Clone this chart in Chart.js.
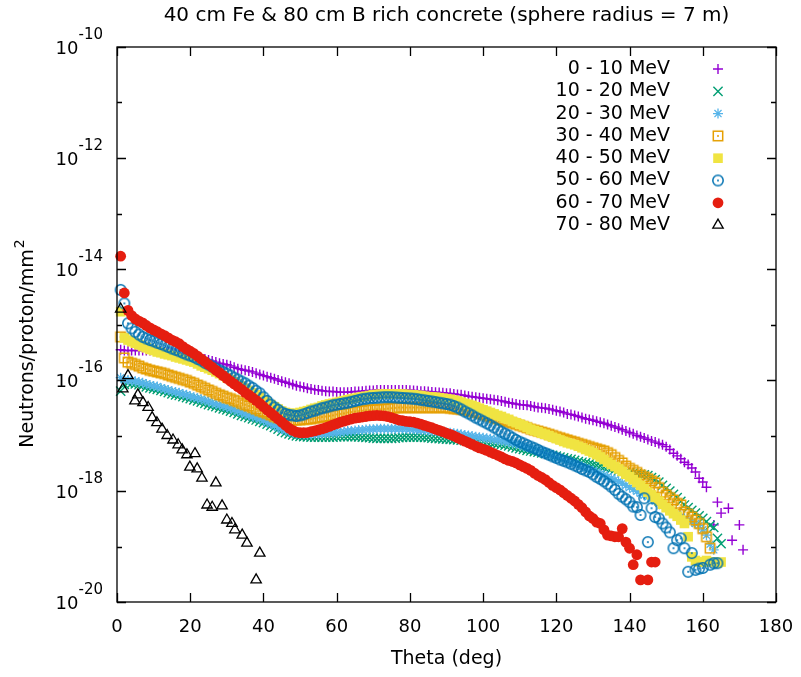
<!DOCTYPE html>
<html lang="en">
<head>
<meta charset="utf-8">
<title>40 cm Fe & 80 cm B rich concrete</title>
<script src="https://cdn.jsdelivr.net/npm/chart.js"></script>
<style>
  body { margin: 0; background: #fff; }
  canvas { display: block; }
</style>
</head>
<body>
<canvas id="myChart" width="801" height="677"></canvas>
<script>
//------------------------------ Datos ------------------------------//
// angulo (grados) comun a las siete primeras series, un punto por grado
const theta = [
  1, 2, 3, 4, 5, 6, 7, 8, 9, 10,
  11, 12, 13, 14, 15, 16, 17, 18, 19, 20,
  21, 22, 23, 24, 25, 26, 27, 28, 29, 30,
  31, 32, 33, 34, 35, 36, 37, 38, 39, 40,
  41, 42, 43, 44, 45, 46, 47, 48, 49, 50,
  51, 52, 53, 54, 55, 56, 57, 58, 59, 60,
  61, 62, 63, 64, 65, 66, 67, 68, 69, 70,
  71, 72, 73, 74, 75, 76, 77, 78, 79, 80,
  81, 82, 83, 84, 85, 86, 87, 88, 89, 90,
  91, 92, 93, 94, 95, 96, 97, 98, 99, 100,
  101, 102, 103, 104, 105, 106, 107, 108, 109, 110,
  111, 112, 113, 114, 115, 116, 117, 118, 119, 120,
  121, 122, 123, 124, 125, 126, 127, 128, 129, 130,
  131, 132, 133, 134, 135, 136, 137, 138, 139, 140,
  141, 142, 143, 144, 145, 146, 147, 148, 149, 150,
  151, 152, 153, 154, 155, 156, 157, 158, 159, 160,
  161, 162, 163, 164, 165, 166, 167, 168, 169, 170,
  171
];

// neutrones/proton/mm2 por intervalo de energia (null = sin punto)
const flux0_10 = [
  3.5e-16, 3.4e-16, 3.4e-16, 3.4e-16, 3.4e-16, 3.4e-16, 3.4e-16, 3.4e-16, 3.4e-16, 3.35e-16,
  3.3e-16, 3.25e-16, 3.2e-16, 3.2e-16, 3.2e-16, 3.1e-16, 3.0e-16, 2.95e-16, 2.9e-16, 2.8e-16,
  2.7e-16, 2.6e-16, 2.5e-16, 2.4e-16, 2.3e-16, 2.2e-16, 2.1e-16, 2.0e-16, 1.95e-16, 1.88e-16,
  1.8e-16, 1.7e-16, 1.6e-16, 1.55e-16, 1.5e-16, 1.45e-16, 1.4e-16, 1.33e-16, 1.26e-16, 1.2e-16,
  1.15e-16, 1.1e-16, 1.05e-16, 1.0e-16, 9.5e-17, 9.1e-17, 8.7e-17, 8.3e-17, 7.9e-17, 7.6e-17,
  7.4e-17, 7.1e-17, 6.9e-17, 6.7e-17, 6.6e-17, 6.4e-17, 6.3e-17, 6.2e-17, 6.2e-17, 6.1e-17,
  6.0e-17, 6.0e-17, 6.0e-17, 6.1e-17, 6.2e-17, 6.2e-17, 6.3e-17, 6.4e-17, 6.5e-17, 6.5e-17,
  6.6e-17, 6.6e-17, 6.6e-17, 6.6e-17, 6.6e-17, 6.6e-17, 6.6e-17, 6.6e-17, 6.6e-17, 6.55e-17,
  6.5e-17, 6.4e-17, 6.3e-17, 6.25e-17, 6.2e-17, 6.1e-17, 6.0e-17, 5.95e-17, 5.9e-17, 5.8e-17,
  5.75e-17, 5.6e-17, 5.5e-17, 5.4e-17, 5.25e-17, 5.1e-17, 5.0e-17, 4.9e-17, 4.8e-17, 4.7e-17,
  4.6e-17, 4.5e-17, 4.4e-17, 4.3e-17, 4.2e-17, 4.05e-17, 3.9e-17, 3.8e-17, 3.7e-17, 3.6e-17,
  3.55e-17, 3.5e-17, 3.4e-17, 3.3e-17, 3.2e-17, 3.15e-17, 3.1e-17, 3.0e-17, 2.9e-17, 2.8e-17,
  2.7e-17, 2.6e-17, 2.45e-17, 2.4e-17, 2.3e-17, 2.2e-17, 2.1e-17, 2.0e-17, 1.95e-17, 1.88e-17,
  1.8e-17, 1.73e-17, 1.66e-17, 1.58e-17, 1.5e-17, 1.42e-17, 1.35e-17, 1.27e-17, 1.2e-17, 1.13e-17,
  1.07e-17, 1.0e-17, 9.5e-18, 9.0e-18, 8.5e-18, 8.0e-18, 7.6e-18, 7.2e-18, 6.8e-18, 6.3e-18,
  5.6e-18, 4.8e-18, 4.3e-18, 3.8e-18, 3.3e-18, 3.0e-18, 2.6e-18, 2.2e-18, 1.7e-18, 1.45e-18,
  1.17e-18, null, 2.45e-19, 6.3e-19, 4.0e-19, null, 4.9e-19, 1.3e-19, null, 2.45e-19,
  8.7e-20
];
const flux10_20 = [
  6.3e-17, 8.3e-17, 8.9e-17, 8.7e-17, 8.5e-17, 8.2e-17, 7.9e-17, 7.5e-17, 7.2e-17, 7.0e-17,
  6.8e-17, 6.5e-17, 6.2e-17, 5.9e-17, 5.6e-17, 5.4e-17, 5.25e-17, 5.0e-17, 4.8e-17, 4.6e-17,
  4.4e-17, 4.2e-17, 4.0e-17, 3.8e-17, 3.6e-17, 3.45e-17, 3.3e-17, 3.15e-17, 3.0e-17, 2.9e-17,
  2.75e-17, 2.6e-17, 2.45e-17, 2.3e-17, 2.2e-17, 2.1e-17, 2.0e-17, 1.9e-17, 1.8e-17, 1.7e-17,
  1.6e-17, 1.5e-17, 1.4e-17, 1.3e-17, 1.2e-17, 1.13e-17, 1.07e-17, 1.02e-17, 9.8e-18, 9.6e-18,
  9.5e-18, 9.4e-18, 9.3e-18, 9.3e-18, 9.3e-18, 9.3e-18, 9.3e-18, 9.3e-18, 9.3e-18, 9.4e-18,
  9.5e-18, 9.5e-18, 9.5e-18, 9.5e-18, 9.5e-18, 9.4e-18, 9.3e-18, 9.2e-18, 9.1e-18, 9.0e-18,
  8.9e-18, 8.9e-18, 8.9e-18, 8.9e-18, 8.9e-18, 9.0e-18, 9.1e-18, 9.2e-18, 9.3e-18, 9.3e-18,
  9.3e-18, 9.3e-18, 9.3e-18, 9.2e-18, 9.1e-18, 9.0e-18, 8.9e-18, 8.8e-18, 8.7e-18, 8.6e-18,
  8.5e-18, 8.4e-18, 8.3e-18, 8.2e-18, 8.1e-18, 8.0e-18, 7.9e-18, 7.85e-18, 7.8e-18, 7.7e-18,
  7.6e-18, 7.4e-18, 7.2e-18, 7.05e-18, 6.9e-18, 6.7e-18, 6.5e-18, 6.25e-18, 6.0e-18, 5.8e-18,
  5.6e-18, 5.4e-18, 5.25e-18, 5.1e-18, 5.0e-18, 4.85e-18, 4.7e-18, 4.55e-18, 4.4e-18, 4.25e-18,
  4.1e-18, 3.95e-18, 3.8e-18, 3.7e-18, 3.55e-18, 3.4e-18, 3.3e-18, 3.2e-18, 3.1e-18, 3.0e-18,
  2.9e-18, 2.8e-18, 2.7e-18, 2.6e-18, 2.5e-18, 2.42e-18, 2.35e-18, 2.27e-18, 2.2e-18, 2.15e-18,
  2.1e-18, 2.05e-18, 2.0e-18, 1.95e-18, 1.9e-18, 1.75e-18, 1.6e-18, 1.45e-18, 1.26e-18, 1.12e-18,
  1.0e-18, 8.7e-19, 7.6e-19, 6.5e-19, 5.6e-19, 5.0e-19, 4.5e-19, 4.0e-19, 3.55e-19, 3.2e-19,
  2.8e-19, 2.4e-19, 2.2e-19, 1.4e-19, 1.12e-19, null, null, null, null, null,
  null
];
const flux20_30 = [
  1.1e-16, 1.0e-16, 1.0e-16, 9.8e-17, 9.5e-17, 9.2e-17, 8.9e-17, 8.5e-17, 8.1e-17, 7.8e-17,
  7.6e-17, 7.2e-17, 6.9e-17, 6.6e-17, 6.3e-17, 6.1e-17, 5.9e-17, 5.6e-17, 5.4e-17, 5.1e-17,
  4.9e-17, 4.7e-17, 4.5e-17, 4.3e-17, 4.1e-17, 3.9e-17, 3.7e-17, 3.55e-17, 3.4e-17, 3.25e-17,
  3.1e-17, 2.9e-17, 2.75e-17, 2.6e-17, 2.45e-17, 2.3e-17, 2.2e-17, 2.1e-17, 2.0e-17, 1.87e-17,
  1.74e-17, 1.62e-17, 1.5e-17, 1.4e-17, 1.3e-17, 1.23e-17, 1.17e-17, 1.12e-17, 1.07e-17, 1.06e-17,
  1.05e-17, 1.05e-17, 1.05e-17, 1.06e-17, 1.07e-17, 1.08e-17, 1.1e-17, 1.11e-17, 1.12e-17, 1.13e-17,
  1.15e-17, 1.17e-17, 1.2e-17, 1.21e-17, 1.23e-17, 1.25e-17, 1.26e-17, 1.28e-17, 1.29e-17, 1.3e-17,
  1.32e-17, 1.32e-17, 1.32e-17, 1.32e-17, 1.32e-17, 1.32e-17, 1.32e-17, 1.32e-17, 1.32e-17, 1.3e-17,
  1.29e-17, 1.27e-17, 1.26e-17, 1.25e-17, 1.23e-17, 1.21e-17, 1.2e-17, 1.17e-17, 1.15e-17, 1.13e-17,
  1.12e-17, 1.1e-17, 1.07e-17, 1.05e-17, 1.02e-17, 1.0e-17, 9.8e-18, 9.5e-18, 9.3e-18, 9.1e-18,
  8.9e-18, 8.7e-18, 8.5e-18, 8.3e-18, 8.1e-18, 7.8e-18, 7.6e-18, 7.3e-18, 7.1e-18, 6.8e-18,
  6.5e-18, 6.2e-18, 5.9e-18, 5.6e-18, 5.4e-18, 5.1e-18, 4.9e-18, 4.6e-18, 4.4e-18, 4.1e-18,
  3.9e-18, 3.7e-18, 3.5e-18, 3.3e-18, 3.1e-18, 2.9e-18, 2.75e-18, 2.6e-18, 2.45e-18, 2.3e-18,
  2.2e-18, 2.05e-18, 1.95e-18, 1.8e-18, 1.7e-18, 1.6e-18, 1.5e-18, 1.38e-18, 1.26e-18, 1.16e-18,
  1.07e-18, 9.9e-19, 9.1e-19, 8.4e-19, 7.8e-19, 7.2e-19, 6.6e-19, 6.0e-19, 5.5e-19, 5.0e-19,
  4.6e-19, 4.2e-19, 3.8e-19, 3.5e-19, 3.2e-19, 3.0e-19, 2.8e-19, 2.6e-19, 2.4e-19, 2.0e-19,
  1.6e-19, 1.1e-19, 8.7e-20, null, null, null, null, null, null, null,
  null
];
const flux30_40 = [
  6.0e-16, 2.5e-16, 2.1e-16, 2.0e-16, 1.9e-16, 1.78e-16, 1.66e-16, 1.58e-16, 1.5e-16, 1.45e-16,
  1.4e-16, 1.35e-16, 1.3e-16, 1.23e-16, 1.17e-16, 1.12e-16, 1.07e-16, 1.02e-16, 9.8e-17, 9.2e-17,
  8.7e-17, 8.1e-17, 7.6e-17, 7.1e-17, 6.6e-17, 6.2e-17, 5.75e-17, 5.4e-17, 5.1e-17, 4.8e-17,
  4.6e-17, 4.3e-17, 4.1e-17, 3.8e-17, 3.6e-17, 3.4e-17, 3.2e-17, 3.0e-17, 2.8e-17, 2.65e-17,
  2.5e-17, 2.35e-17, 2.2e-17, 2.1e-17, 2.0e-17, 1.95e-17, 1.9e-17, 1.9e-17, 1.9e-17, 1.92e-17,
  1.95e-17, 1.97e-17, 2.0e-17, 2.05e-17, 2.1e-17, 2.15e-17, 2.2e-17, 2.25e-17, 2.3e-17, 2.4e-17,
  2.45e-17, 2.5e-17, 2.6e-17, 2.65e-17, 2.7e-17, 2.75e-17, 2.8e-17, 2.85e-17, 2.9e-17, 2.92e-17,
  2.95e-17, 2.97e-17, 3.0e-17, 3.05e-17, 3.1e-17, 3.15e-17, 3.2e-17, 3.2e-17, 3.2e-17, 3.2e-17,
  3.2e-17, 3.2e-17, 3.2e-17, 3.2e-17, 3.2e-17, 3.2e-17, 3.2e-17, 3.2e-17, 3.2e-17, 3.2e-17,
  3.1e-17, 3.05e-17, 3.0e-17, 2.95e-17, 2.9e-17, 2.8e-17, 2.7e-17, 2.6e-17, 2.5e-17, 2.4e-17,
  2.3e-17, 2.2e-17, 2.1e-17, 2.0e-17, 1.9e-17, 1.82e-17, 1.74e-17, 1.67e-17, 1.6e-17, 1.52e-17,
  1.45e-17, 1.38e-17, 1.3e-17, 1.25e-17, 1.2e-17, 1.15e-17, 1.1e-17, 1.05e-17, 1.0e-17, 9.5e-18,
  9.1e-18, 8.7e-18, 8.3e-18, 7.9e-18, 7.6e-18, 7.2e-18, 6.9e-18, 6.6e-18, 6.3e-18, 6.0e-18,
  5.75e-18, 5.5e-18, 5.25e-18, 4.9e-18, 4.5e-18, 4.0e-18, 3.55e-18, 3.2e-18, 2.8e-18, 2.55e-18,
  2.35e-18, 2.15e-18, 1.95e-18, 1.8e-18, 1.66e-18, 1.52e-18, 1.4e-18, 1.15e-18, 9.5e-19, 8.5e-19,
  7.6e-19, 6.9e-19, 6.0e-19, 5.6e-19, 4.2e-19, 3.8e-19, 3.4e-19, 3.0e-19, 2.6e-19, 2.1e-19,
  1.5e-19, 9.3e-20, null, null, null, null, null, null, null, null,
  null
];
const flux40_50 = [
  1.7e-15, 5.75e-16, 5.25e-16, 4.9e-16, 4.6e-16, 4.3e-16, 4.0e-16, 3.8e-16, 3.55e-16, 3.4e-16,
  3.2e-16, 3.1e-16, 2.95e-16, 2.85e-16, 2.75e-16, 2.6e-16, 2.5e-16, 2.4e-16, 2.3e-16, 2.2e-16,
  2.1e-16, 1.95e-16, 1.8e-16, 1.7e-16, 1.6e-16, 1.5e-16, 1.4e-16, 1.3e-16, 1.2e-16, 1.1e-16,
  1.02e-16, 9.3e-17, 8.5e-17, 7.8e-17, 7.1e-17, 6.5e-17, 5.9e-17, 5.4e-17, 4.9e-17, 4.4e-17,
  4.0e-17, 3.6e-17, 3.3e-17, 3.0e-17, 2.75e-17, 2.6e-17, 2.5e-17, 2.5e-17, 2.5e-17, 2.6e-17,
  2.7e-17, 2.8e-17, 2.95e-17, 3.1e-17, 3.2e-17, 3.4e-17, 3.55e-17, 3.7e-17, 3.8e-17, 3.95e-17,
  4.1e-17, 4.25e-17, 4.4e-17, 4.55e-17, 4.7e-17, 4.85e-17, 5.0e-17, 5.1e-17, 5.25e-17, 5.4e-17,
  5.5e-17, 5.55e-17, 5.6e-17, 5.6e-17, 5.6e-17, 5.6e-17, 5.6e-17, 5.55e-17, 5.5e-17, 5.45e-17,
  5.4e-17, 5.3e-17, 5.25e-17, 5.1e-17, 5.0e-17, 4.95e-17, 4.9e-17, 4.8e-17, 4.7e-17, 4.6e-17,
  4.5e-17, 4.35e-17, 4.2e-17, 4.0e-17, 3.8e-17, 3.65e-17, 3.5e-17, 3.3e-17, 3.1e-17, 2.9e-17,
  2.75e-17, 2.6e-17, 2.45e-17, 2.3e-17, 2.2e-17, 2.05e-17, 1.95e-17, 1.8e-17, 1.7e-17, 1.6e-17,
  1.5e-17, 1.4e-17, 1.3e-17, 1.23e-17, 1.17e-17, 1.1e-17, 1.05e-17, 9.9e-18, 9.3e-18, 8.8e-18,
  8.3e-18, 7.8e-18, 7.4e-18, 7.1e-18, 6.8e-18, 6.4e-18, 6.0e-18, 5.6e-18, 5.25e-18, 4.9e-18,
  4.5e-18, 4.1e-18, 3.7e-18, 3.3e-18, 3.0e-18, 2.75e-18, 2.5e-18, 2.25e-18, 2.0e-18, 1.8e-18,
  1.6e-18, 1.42e-18, 1.26e-18, 1.1e-18, 9.5e-19, 8.5e-19, 7.6e-19, 6.6e-19, 5.75e-19, 5.0e-19,
  4.4e-19, 3.9e-19, 3.5e-19, 3.0e-19, 2.6e-19, 1.5e-19, 6.5e-20, 5.6e-20, 5.25e-20, 5.25e-20,
  5.6e-20, 5.25e-20, 5.25e-20, 5.0e-20, 5.25e-20, null, null, null, null, null,
  null
];
const flux50_60 = [
  4.2e-15, 2.4e-15, 1.05e-15, 8.5e-16, 7.4e-16, 6.6e-16, 6.0e-16, 5.6e-16, 5.25e-16, 5.0e-16,
  4.7e-16, 4.45e-16, 4.2e-16, 3.95e-16, 3.7e-16, 3.5e-16, 3.3e-16, 3.1e-16, 2.9e-16, 2.75e-16,
  2.6e-16, 2.4e-16, 2.25e-16, 2.05e-16, 1.9e-16, 1.75e-16, 1.6e-16, 1.5e-16, 1.4e-16, 1.3e-16,
  1.2e-16, 1.1e-16, 1.02e-16, 9.4e-17, 8.7e-17, 7.9e-17, 7.2e-17, 6.4e-17, 5.75e-17, 4.9e-17,
  4.2e-17, 3.6e-17, 3.2e-17, 2.9e-17, 2.6e-17, 2.45e-17, 2.35e-17, 2.3e-17, 2.25e-17, 2.3e-17,
  2.4e-17, 2.55e-17, 2.7e-17, 2.8e-17, 2.95e-17, 3.1e-17, 3.2e-17, 3.35e-17, 3.5e-17, 3.6e-17,
  3.7e-17, 3.8e-17, 3.9e-17, 4.05e-17, 4.2e-17, 4.35e-17, 4.5e-17, 4.6e-17, 4.7e-17, 4.75e-17,
  4.8e-17, 4.85e-17, 4.9e-17, 4.9e-17, 4.9e-17, 4.85e-17, 4.8e-17, 4.75e-17, 4.7e-17, 4.65e-17,
  4.6e-17, 4.5e-17, 4.4e-17, 4.3e-17, 4.2e-17, 4.1e-17, 4.0e-17, 3.9e-17, 3.8e-17, 3.7e-17,
  3.6e-17, 3.4e-17, 3.2e-17, 2.95e-17, 2.7e-17, 2.5e-17, 2.3e-17, 2.1e-17, 1.95e-17, 1.8e-17,
  1.66e-17, 1.53e-17, 1.4e-17, 1.28e-17, 1.17e-17, 1.08e-17, 1.0e-17, 9.1e-18, 8.3e-18, 7.7e-18,
  7.2e-18, 6.7e-18, 6.3e-18, 5.9e-18, 5.5e-18, 5.1e-18, 4.8e-18, 4.5e-18, 4.2e-18, 3.95e-18,
  3.7e-18, 3.5e-18, 3.3e-18, 3.1e-18, 2.9e-18, 2.7e-18, 2.5e-18, 2.35e-18, 2.2e-18, 2.0e-18,
  1.8e-18, 1.65e-18, 1.5e-18, 1.35e-18, 1.2e-18, 1.05e-18, 8.9e-19, 7.9e-19, 7.1e-19, 6.3e-19,
  5.25e-19, 5.1e-19, 3.7e-19, 7.4e-19, 1.2e-19, 4.9e-19, 3.4e-19, 3.2e-19, 2.6e-19, 2.2e-19,
  1.8e-19, 9.3e-20, 1.3e-19, 1.4e-19, 9.3e-20, 3.5e-20, 7.6e-20, 3.8e-20, 4.0e-20, 4.1e-20,
  null, 4.7e-20, 5.0e-20, 5.0e-20, null, null, null, null, null, null,
  null
];
const flux60_70 = [
  1.7e-14, 3.7e-15, 1.8e-15, 1.45e-15, 1.26e-15, 1.15e-15, 1.07e-15, 9.6e-16, 8.7e-16, 8.0e-16,
  7.4e-16, 6.8e-16, 6.3e-16, 5.75e-16, 5.25e-16, 4.9e-16, 4.5e-16, 4.0e-16, 3.6e-16, 3.3e-16,
  3.0e-16, 2.7e-16, 2.4e-16, 2.15e-16, 1.9e-16, 1.7e-16, 1.5e-16, 1.35e-16, 1.2e-16, 1.07e-16,
  9.5e-17, 8.5e-17, 7.6e-17, 6.8e-17, 6.0e-17, 5.4e-17, 4.8e-17, 4.3e-17, 3.8e-17, 3.3e-17,
  2.9e-17, 2.55e-17, 2.25e-17, 1.98e-17, 1.74e-17, 1.53e-17, 1.35e-17, 1.24e-17, 1.15e-17, 1.12e-17,
  1.12e-17, 1.13e-17, 1.17e-17, 1.21e-17, 1.26e-17, 1.32e-17, 1.38e-17, 1.46e-17, 1.55e-17, 1.64e-17,
  1.74e-17, 1.82e-17, 1.9e-17, 1.98e-17, 2.05e-17, 2.1e-17, 2.15e-17, 2.2e-17, 2.25e-17, 2.28e-17,
  2.3e-17, 2.28e-17, 2.25e-17, 2.18e-17, 2.1e-17, 2.0e-17, 1.9e-17, 1.85e-17, 1.8e-17, 1.77e-17,
  1.74e-17, 1.67e-17, 1.6e-17, 1.52e-17, 1.45e-17, 1.38e-17, 1.3e-17, 1.24e-17, 1.17e-17, 1.1e-17,
  1.05e-17, 9.8e-18, 9.1e-18, 8.5e-18, 7.9e-18, 7.4e-18, 6.9e-18, 6.4e-18, 6.0e-18, 5.7e-18,
  5.4e-18, 5.0e-18, 4.7e-18, 4.4e-18, 4.1e-18, 3.8e-18, 3.55e-18, 3.4e-18, 3.2e-18, 2.95e-18,
  2.75e-18, 2.55e-18, 2.35e-18, 2.1e-18, 1.9e-18, 1.75e-18, 1.6e-18, 1.42e-18, 1.26e-18, 1.15e-18,
  1.05e-18, 9.3e-19, 8.3e-19, 7.4e-19, 6.6e-19, 5.75e-19, 5.0e-19, 4.2e-19, 3.55e-19, 3.2e-19,
  2.75e-19, 2.6e-19, 2.0e-19, 1.6e-19, 1.55e-19, 1.5e-19, 1.5e-19, 2.1e-19, 1.2e-19, 9.3e-20,
  4.7e-20, 7.1e-20, 2.5e-20, null, 2.5e-20, 5.25e-20, 5.25e-20, null, null, null,
  null, null, null, null, null, null, null, null, null, null,
  null, null, null, null, null, null, null, null, null, null,
  null
];
// la serie 70 - 80 MeV tiene sus propios angulos
const thetaTri = [1, 1.6, 3, 4.9, 5.7, 7.1, 8.5, 9.6, 10.9, 12.3, 13.7, 15.3, 16.7, 17.8, 19.1,
  19.9, 21.3, 21.9, 23.2, 24.6, 26, 27, 28.7, 30, 31.4, 32.2, 34.2, 35.5, 38, 39];
const flux70_80 = [1.9e-15, 6.9e-17, 1.2e-16, 4.2e-17, 5.4e-17, 3.9e-17, 3.2e-17, 2.1e-17, 1.7e-17,
  1.3e-17, 1.0e-17, 8.3e-18, 6.8e-18, 5.5e-18, 4.5e-18, 2.7e-18, 4.7e-18, 2.5e-18, 1.7e-18,
  5.6e-19, 5.1e-19, 1.4e-18, 5.4e-19, 3.0e-19, 2.6e-19, 2.0e-19, 1.6e-19, 1.15e-19, 2.5e-20, 7.6e-20];

const energias = ["0 - 10 MeV", "10 - 20 MeV", "20 - 30 MeV", "30 - 40 MeV",
  "40 - 50 MeV", "50 - 60 MeV", "60 - 70 MeV", "70 - 80 MeV"];
const xTicks = [0, 20, 40, 60, 80, 100, 120, 140, 160, 180];
const exponentes = [-20, -19, -18, -17, -16, -15, -14, -13, -12, -11, -10];

//------------------------------ Marcas estilo gnuplot ------------------------------//
const FUENTE = '"DejaVu Sans", sans-serif';

// cuadrado o circulo abierto con un punto al centro
function marcaConPunto(forma, color) {
  const c = document.createElement("canvas");
  const lado = 14;
  c.width = lado;
  c.height = lado;
  const g = c.getContext("2d");
  const m = lado / 2;
  g.strokeStyle = color;
  g.fillStyle = color;
  g.lineWidth = 1.5;
  g.beginPath();
  if (forma === "circulo") g.arc(m, m, 5.2, 0, Math.PI * 2);
  else g.rect(m - 4.7, m - 4.7, 9.4, 9.4);
  g.stroke();
  g.beginPath();
  g.arc(m, m, 1, 0, Math.PI * 2);
  g.fill();
  return c;
}

const estilos = [
  { color: "#9400d3", pointStyle: "cross", radius: 5, borde: 1.4, relleno: "#9400d3" },
  { color: "#009e73", pointStyle: "crossRot", radius: 6.5, borde: 1.4, relleno: "#009e73" },
  { color: "#56b4e9", pointStyle: "star", radius: 5, borde: 1.3, relleno: "#56b4e9" },
  { color: "#e69f00", pointStyle: marcaConPunto("cuadrado", "#e69f00"), radius: 5, borde: 0, relleno: "#e69f00" },
  { color: "#f0e442", pointStyle: "rect", radius: 6.8, borde: 0, relleno: "#f0e442" },
  { color: "#0072b2", pointStyle: marcaConPunto("circulo", "#0072b2"), radius: 5, borde: 0, relleno: "#0072b2" },
  { color: "#e51e10", pointStyle: "circle", radius: 5.4, borde: 0, relleno: "#e51e10" },
  { color: "#000000", pointStyle: "triangle", radius: 6, borde: 1.3, relleno: "rgba(0,0,0,0)" }
];

function puntos(xs, ys) {
  return xs.map((x, i) => ({ x: x, y: ys[i] })).filter((p) => p.y !== null && p.y !== undefined);
}

const series = [
  puntos(theta, flux0_10), puntos(theta, flux10_20), puntos(theta, flux20_30),
  puntos(theta, flux30_40), puntos(theta, flux40_50), puntos(theta, flux50_60),
  puntos(theta, flux60_70), puntos(thetaTri, flux70_80)
];

const datasets = series.map((data, i) => ({
  label: energias[i],
  data: data,
  order: series.length - i, // la ultima serie queda arriba, como en gnuplot
  pointStyle: estilos[i].pointStyle,
  pointRadius: estilos[i].radius,
  pointHoverRadius: estilos[i].radius,
  pointBorderWidth: estilos[i].borde,
  pointBorderColor: estilos[i].color,
  pointBackgroundColor: estilos[i].relleno,
  showLine: false,
  clip: false
}));

//------------------------------ Plugins: marco, textos y leyenda ------------------------------//
const marco = {
  id: "marco",
  afterDraw(chart) {
    const { ctx, chartArea: a, scales: { x, y } } = chart;
    ctx.save();
    ctx.strokeStyle = "#000";
    ctx.lineWidth = 1.3;
    ctx.beginPath();
    x.ticks.forEach((t) => {
      const px = Math.round(x.getPixelForValue(t.value)) + 0.5;
      ctx.moveTo(px, a.bottom); ctx.lineTo(px, a.bottom - 9);
      ctx.moveTo(px, a.top); ctx.lineTo(px, a.top + 9);
    });
    y.ticks.forEach((t) => {
      const e = Math.round(Math.log10(t.value));
      const largo = e % 2 === 0 ? 9 : 5;
      const py = Math.round(y.getPixelForValue(t.value)) + 0.5;
      ctx.moveTo(a.left, py); ctx.lineTo(a.left + largo, py);
      ctx.moveTo(a.right, py); ctx.lineTo(a.right - largo, py);
    });
    ctx.stroke();
    ctx.strokeRect(a.left, a.top, a.right - a.left, a.bottom - a.top);

    // etiquetas del eje y: 10 con exponente
    ctx.fillStyle = "#000";
    ctx.textAlign = "right";
    ctx.textBaseline = "alphabetic";
    y.ticks.forEach((t) => {
      const e = Math.round(Math.log10(t.value));
      if (e % 2 !== 0) return;
      const py = y.getPixelForValue(t.value);
      ctx.font = "15px " + FUENTE;
      const exp = String(e);
      const w = ctx.measureText(exp).width;
      ctx.fillText(exp, a.left - 14, py - 8.5);
      ctx.font = "18px " + FUENTE;
      ctx.fillText("10", a.left - 14 - w, py + 7);
    });

    // titulo
    ctx.textAlign = "center";
    ctx.font = "20px " + FUENTE;
    ctx.fillText("40 cm Fe & 80 cm B rich concrete (sphere radius = 7 m)", (a.left + a.right) / 2, 21);

    // titulo eje x
    ctx.font = "19px " + FUENTE;
    ctx.fillText("Theta (deg)", (a.left + a.right) / 2, 664);

    // titulo eje y girado, con el 2 elevado
    ctx.translate(33, 344);
    ctx.rotate(-Math.PI / 2);
    ctx.textAlign = "left";
    const base = "Neutrons/proton/mm";
    ctx.font = "19px " + FUENTE;
    const w1 = ctx.measureText(base).width;
    ctx.font = "14px " + FUENTE;
    const w2 = ctx.measureText("2").width;
    ctx.font = "19px " + FUENTE;
    ctx.fillText(base, -(w1 + w2) / 2, 0);
    ctx.font = "14px " + FUENTE;
    ctx.fillText("2", -(w1 + w2) / 2 + w1 + 1, -9);
    ctx.restore();
  }
};

const leyenda = {
  id: "leyenda",
  afterDraw(chart) {
    const ctx = chart.ctx;
    ctx.save();
    chart.data.datasets.forEach((ds, i) => {
      const yy = 69 + i * 22.3;
      ctx.fillStyle = "#000";
      ctx.font = "19px " + FUENTE;
      ctx.textAlign = "right";
      ctx.textBaseline = "middle";
      ctx.fillText(ds.label, 670, yy);
      ctx.fillStyle = ds.pointBackgroundColor;
      ctx.strokeStyle = ds.pointBorderColor;
      ctx.lineWidth = ds.pointBorderWidth;
      Chart.helpers.drawPoint(ctx, {
        pointStyle: ds.pointStyle,
        radius: ds.pointRadius,
        borderWidth: ds.pointBorderWidth,
        rotation: 0
      }, 718, yy);
    });
    ctx.restore();
  }
};

//------------------------------ Grafico ------------------------------//
const config = {
  type: "scatter",
  data: { datasets: datasets },
  options: {
    responsive: false,
    animation: false,
    events: [],
    layout: { padding: { top: 47, right: 25, left: 0, bottom: 0 } },
    plugins: {
      legend: { display: false },
      tooltip: { enabled: false },
      title: { display: false }
    },
    scales: {
      x: {
        type: "linear",
        min: 0,
        max: 180,
        afterBuildTicks(scale) {
          scale.ticks = xTicks.map((v) => ({ value: v }));
        },
        grid: { display: false },
        border: { display: false },
        ticks: {
          autoSkip: false,
          maxRotation: 0,
          padding: 7,
          color: "#000",
          font: { family: FUENTE, size: 18 }
        },
        afterFit(scale) { scale.height = 75; }
      },
      y: {
        type: "logarithmic",
        min: 1e-20,
        max: 1e-10,
        afterBuildTicks(scale) {
          scale.ticks = exponentes.map((e) => ({ value: Math.pow(10, e) }));
        },
        grid: { display: false },
        border: { display: false },
        ticks: { display: false, autoSkip: false },
        afterFit(scale) { scale.width = 117; }
      }
    }
  },
  plugins: [marco, leyenda]
};

const chartDOM = document.getElementById("myChart");
new Chart(chartDOM, config);
</script>
</body>
</html>
